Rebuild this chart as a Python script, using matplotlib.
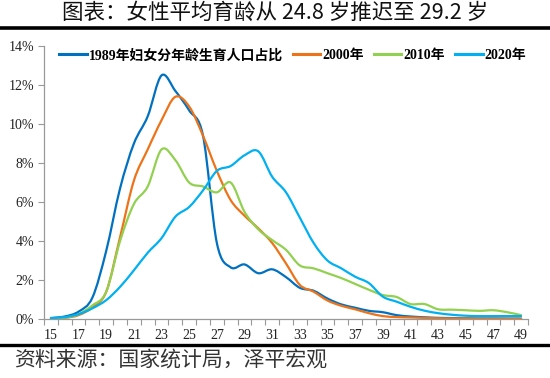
import matplotlib.pyplot as plt
import numpy as np
from matplotlib.path import Path
from matplotlib.patches import PathPatch
from matplotlib.lines import Line2D
from matplotlib.ticker import FixedLocator, PercentFormatter

plt.rcParams['font.family'] = ['Liberation Serif', 'Noto Sans CJK SC']

# Data: share of births by mother's age (%)
ages = list(range(15, 50))
y1989 = [0.05, 0.13, 0.38, 1.1, 3.5, 6.7, 9.0, 10.4, 12.5, 11.7, 10.7, 9.4, 3.9, 2.65,
         2.8, 2.35, 2.55, 2.15, 1.6, 1.45, 1.05, 0.75, 0.58, 0.42, 0.35, 0.2, 0.13, 0.09,
         0.06, 0.05, 0.04, 0.03, 0.03, 0.02, 0.02]
y2000 = [0.02, 0.06, 0.2, 0.6, 1.4, 4.2, 7.1, 8.7, 10.2, 11.4, 10.9, 9.4, 7.6, 6.1,
         5.3, 4.65, 3.9, 2.85, 1.75, 1.4, 0.95, 0.68, 0.5, 0.3, 0.15, 0.1, 0.08, 0.06,
         0.04, 0.03, 0.03, 0.02, 0.02, 0.02, 0.02]
y2010 = [0.02, 0.07, 0.25, 0.7, 1.4, 4.0, 5.9, 6.8, 8.7, 8.15, 7.0, 6.8, 6.5, 7.0,
         5.5, 4.6, 4.05, 3.55, 2.75, 2.6, 2.35, 2.1, 1.8, 1.5, 1.23, 1.13, 0.77, 0.77,
         0.5, 0.48, 0.45, 0.42, 0.45, 0.35, 0.2]
y2020 = [0.05, 0.1, 0.25, 0.55, 0.97, 1.65, 2.5, 3.4, 4.15, 5.25, 5.75, 6.6, 7.6, 7.85,
         8.4, 8.6, 7.3, 6.5, 5.2, 3.9, 3.0, 2.6, 2.17, 1.84, 1.15, 0.89, 0.63, 0.43,
         0.3, 0.22, 0.17, 0.15, 0.15, 0.15, 0.15]
labels = ['1989年妇女分年龄生育人口占比', '2000年', '2010年', '2020年']
colors = ['#0070C0', '#EE7318', '#92D050', '#00B0F0']


def smooth_path(x, y):
    # Excel-style smoothed line: cubic Bezier through every data point
    x = np.asarray(x, float)
    y = np.asarray(y, float)
    pts = np.column_stack([x, y])
    n = len(pts)
    verts = [pts[0]]
    codes = [Path.MOVETO]
    for i in range(n - 1):
        p0 = pts[i - 1] if i > 0 else pts[i]
        p1, p2 = pts[i], pts[i + 1]
        p3 = pts[i + 2] if i + 2 < n else pts[i + 1]
        c1 = p1 + (p2 - p0) / 6
        c2 = p2 - (p3 - p1) / 6
        verts += [c1, c2, p2]
        codes += [Path.CURVE4] * 3
    return Path(verts, codes)


fig = plt.figure(figsize=(5.5, 3.78), dpi=100)
ax = fig.add_axes([0.08, 0.156, 0.88, 0.722])

handles = []
for ys, c, lab in zip([y1989, y2000, y2010, y2020], colors, labels):
    ax.add_patch(PathPatch(smooth_path(ages, ys), facecolor='none', edgecolor=c,
                           lw=1.6, capstyle='round', joinstyle='round'))
    handles.append(Line2D([0], [0], color=c, lw=2.2, label=lab))

ax.set_xlim(14.5, 49.5)
ax.set_ylim(0, 14)
ax.set_xticks(range(15, 50, 2))
ax.xaxis.set_minor_locator(FixedLocator(np.arange(14.5, 50, 1)))
ax.set_yticks(range(0, 15, 2))
ax.yaxis.set_major_formatter(PercentFormatter(decimals=0))
ax.tick_params(axis='x', which='major', length=0, pad=7, labelsize=10, labelcolor='#222222')
ax.tick_params(axis='x', which='minor', length=4, width=0.8, color='#999999', direction='out')
ax.tick_params(axis='y', length=4, width=0.8, color='#999999', pad=3, labelsize=10,
               labelcolor='#222222')
for lbl in ax.get_xticklabels() + ax.get_yticklabels():
    lbl.set_fontfamily('Liberation Serif')
for s in ['top', 'right']:
    ax.spines[s].set_visible(False)
for s in ['left', 'bottom']:
    ax.spines[s].set_color('#999999')
    ax.spines[s].set_linewidth(0.9)

ax.legend(handles=handles, loc='upper left', bbox_to_anchor=(0.025, 1.0), ncol=4,
          frameon=False, borderaxespad=0, borderpad=0.2, handlelength=2.0,
          handletextpad=0.15, columnspacing=0.7,
          prop={'family': ['Liberation Serif', 'Noto Sans CJK SC'], 'weight': 'bold', 'size': 10})

fig.text(0.5, 0.967, '图表：女性平均育龄从 24.8 岁推迟至 29.2 岁', ha='center', va='center',
         fontsize=15.5, family=['Noto Sans CJK SC', 'DejaVu Sans'], color='#111111')
fig.add_artist(Line2D([0, 1], [0.926, 0.926], transform=fig.transFigure, color='black', lw=2.6))
fig.add_artist(Line2D([0, 1], [0.087, 0.087], transform=fig.transFigure, color='black', lw=2.4))
fig.text(0.025, 0.045, '资料来源：国家统计局，泽平宏观', ha='left', va='center',
         fontsize=15, family=['Noto Sans CJK SC', 'DejaVu Sans'], color='#333333')

fig.savefig('out.png', dpi=100)
